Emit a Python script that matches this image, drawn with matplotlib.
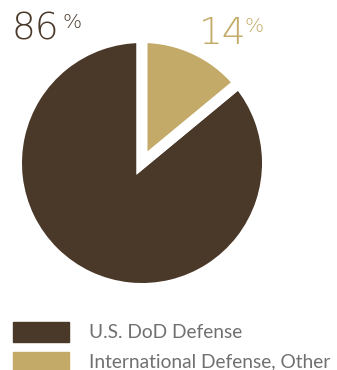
import matplotlib
matplotlib.use("Agg")
import matplotlib.pyplot as plt
from matplotlib.patches import Rectangle

labels = ["U.S. DoD Defense", "International Defense, Other"]
shares = [86, 14]
colors = ["#4a3828", "#c3aa68"]
pct_text = ["86", "14"]

plt.rcParams['font.family'] = ['Lato', 'DejaVu Sans']

W, H = 337, 370
fig = plt.figure(figsize=(W / 100, H / 100), dpi=100)

# pie: centre (142,163) px, visible radius ~120 px plus white stroke
cx, cy, R = 142, 163, 125.5
ax = fig.add_axes([(cx - R) / W, (H - cy - R) / H, 2 * R / W, 2 * R / H])
ax.pie(shares, colors=colors, startangle=90, counterclock=True, radius=1,
       wedgeprops=dict(edgecolor="white", linewidth=7.9))
ax.set_xlim(-1, 1)
ax.set_ylim(-1, 1)
ax.axis("off")

# big percentage labels
big = dict(family="DejaVu Sans", fontweight="light")
fig.text(11 / W, 1 - 40 / H, pct_text[0], fontsize=27,
         color=colors[0], ha="left", va="baseline", **big)
fig.text(63 / W, 1 - 28 / H, "%", fontsize=14.5,
         color=colors[0], ha="left", va="baseline", **big)
fig.text(199 / W, 1 - 44 / H, pct_text[1], fontsize=27,
         color=colors[1], ha="left", va="baseline", **big)
fig.text(245 / W, 1 - 32 / H, "%", fontsize=14.5,
         color=colors[1], ha="left", va="baseline", **big)

# legend
for i, (lab, col) in enumerate(zip(labels, colors)):
    y0 = 322 + i * 30
    fig.patches.append(Rectangle((13 / W, 1 - (y0 + 20) / H), 56 / W, 20 / H,
                                 transform=fig.transFigure, color=col))
    fig.text(89 / W, 1 - (y0 + 10) / H, lab, fontsize=13.8, color="#707070",
             ha="left", va="center")

fig.savefig("out.png", dpi=100)
